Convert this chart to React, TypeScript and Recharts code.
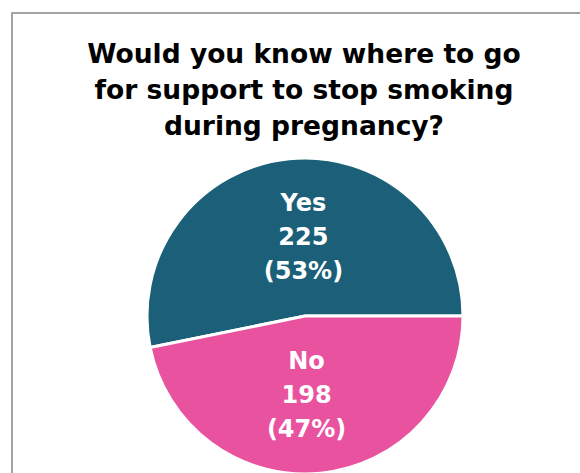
import { PieChart, Pie, Cell } from "recharts";

const categories = ["Yes", "No"];
const counts = [225, 198];
const percents = ["53%", "47%"];
const colors = ["#1c5f78", "#e9529f"];

const titleLines = [
  "Would you know where to go",
  "for support to stop smoking",
  "during pregnancy?",
];

const data = categories.map((name, i) => ({
  name,
  value: counts[i],
  pct: percents[i],
}));

const RADIAN = Math.PI / 180;

function SliceLabel(props: any) {
  const { cx, cy, midAngle, outerRadius, index } = props;
  const r = outerRadius * 0.5;
  const x = cx + r * Math.cos(-midAngle * RADIAN) * 0.2;
  const y = cy + r * Math.sin(-midAngle * RADIAN);
  const item = data[index];
  const lines = [item.name, String(item.value), `(${item.pct})`];
  return (
    <text
      x={x}
      y={y}
      fill="#ffffff"
      textAnchor="middle"
      fontFamily="DejaVu Sans"
      fontWeight="bold"
      fontSize={24}
    >
      {lines.map((t, i) => (
        <tspan key={i} x={x} y={y + (i - 1) * 34 + 8}>
          {t}
        </tspan>
      ))}
    </text>
  );
}

export default function App() {
  return (
    <div
      style={{
        position: "absolute",
        left: 0,
        top: 0,
        width: 580,
        height: 473,
        overflow: "hidden",
        background: "#ffffff",
      }}
    >
      <div
        style={{
          position: "absolute",
          left: 11,
          top: 12,
          width: 600,
          height: 500,
          borderLeft: "2px solid #a3a3a3",
          borderTop: "2px solid #a3a3a3",
        }}
      />
      <div
        style={{
          position: "absolute",
          left: 0,
          top: 36,
          width: 608,
          textAlign: "center",
          fontFamily: "DejaVu Sans",
          fontWeight: "bold",
          fontSize: 26.5,
          lineHeight: "36px",
          color: "#000000",
        }}
      >
        {titleLines.map((t) => (
          <div key={t}>{t}</div>
        ))}
      </div>
      <div style={{ position: "absolute", left: 0, top: 0 }}>
        <PieChart width={580} height={473}>
          <Pie
            data={data}
            dataKey="value"
            nameKey="name"
            cx={300}
            cy={311}
            outerRadius={158}
            startAngle={0}
            endAngle={360}
            stroke="#ffffff"
            strokeWidth={3}
            labelLine={false}
            label={SliceLabel}
            isAnimationActive={false}
          >
            {data.map((d, i) => (
              <Cell key={d.name} fill={colors[i]} />
            ))}
          </Pie>
        </PieChart>
      </div>
    </div>
  );
}
